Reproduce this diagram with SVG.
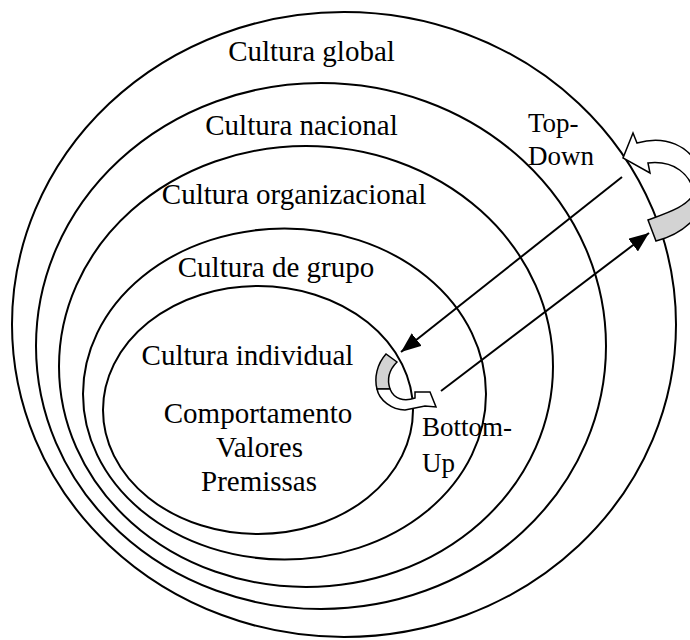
<svg xmlns="http://www.w3.org/2000/svg" width="690" height="640" viewBox="0 0 690 640">
<defs>
<style>
.ring{fill:none;stroke:#000;stroke-width:2}
.t{font-family:"Liberation Serif","Times New Roman",serif;font-size:29px;fill:#000;text-anchor:middle}
.s{font-family:"Liberation Serif","Times New Roman",serif;font-size:27px;fill:#000}
.ln{stroke:#000;stroke-width:2;fill:none}
.band{stroke:#000;stroke-width:1.5;stroke-linejoin:miter}
</style>
<marker id="ah" markerWidth="10" markerHeight="8" refX="10" refY="4" orient="auto" markerUnits="strokeWidth">
<path d="M0,0 L10,4 L0,8 Z" fill="#000"/>
</marker>
</defs>
<rect width="690" height="640" fill="#fff"/>
<g id="global"><ellipse class="ring" cx="344" cy="324.5" rx="332" ry="312.5"/><text class="t" x="311.5" y="61">Cultura global</text></g>
<g id="nacional"><ellipse class="ring" cx="321" cy="346" rx="285" ry="263"/><text class="t" x="301.5" y="135">Cultura nacional</text></g>
<g id="organizacional"><ellipse class="ring" cx="306" cy="366.5" rx="247" ry="220.5"/><text class="t" x="294" y="204">Cultura organizacional</text></g>
<g id="grupo"><ellipse class="ring" cx="284.5" cy="394" rx="201.5" ry="165.5"/><text class="t" x="276" y="277">Cultura de grupo</text></g>
<g id="individual"><ellipse class="ring" cx="258" cy="410" rx="155" ry="124"/><text class="t" x="247.5" y="365">Cultura individual</text>
<text class="t" x="258" y="423">Comportamento</text><text class="t" x="259.5" y="457">Valores</text><text class="t" x="259" y="491">Premissas</text></g>
<g id="topdown-label"><text class="s" x="528" y="132">Top-</text><text class="s" x="528" y="165">Down</text></g>
<g id="bottomup-label"><text class="s" x="422" y="436">Bottom-</text><text class="s" x="422" y="472">Up</text></g>
<g id="connectors">
<line class="ln" x1="622" y1="177" x2="401" y2="352" marker-end="url(#ah)"/>
<line class="ln" x1="441" y1="391" x2="649" y2="233" marker-end="url(#ah)"/>
<g id="loop-top">
<path class="band" fill="#d3d3d3" d="M648,220 L656,241 C675,236 695,225 706,200 L694,192 C690,205 670,212 648,220 Z"/>
<path class="band" fill="#fff" d="M648,163 L650,173 L623,158 L633,133 L637,143 C665,135 690,145 700,170 L706,190 L694,192 C690,175 675,160 648,163 Z"/>
</g>
<g id="loop-bottom">
<path class="band" fill="#d3d3d3" d="M386,354 C377,364 374,378 377,389 L390,389 C387,380 389,370 397,362 Z"/>
<path class="band" fill="#fff" d="M377,389 C379,400 392,410 405,410 L425,406 L436,407 L430,392 L415,392 L415,398 C404,402 394,399 390,389 Z"/>
</g>
</g>
</svg>
